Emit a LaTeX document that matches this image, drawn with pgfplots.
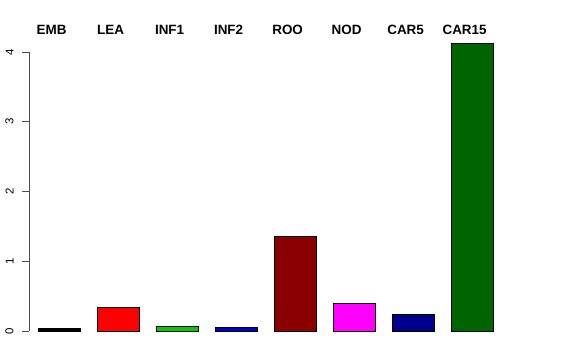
\documentclass[border=0pt]{standalone}
\usepackage{pgfplots}
\pgfplotsset{compat=1.18}
\usepackage{fontspec}
\setmainfont{Liberation Sans}
\definecolor{cEMB}{RGB}{0,0,0}
\definecolor{cLEA}{RGB}{255,0,0}
\definecolor{cINFa}{RGB}{0,205,0}
\definecolor{cINFb}{RGB}{0,0,205}
\definecolor{cROO}{RGB}{139,0,0}
\definecolor{cNOD}{RGB}{255,0,255}
\definecolor{cCARa}{RGB}{0,0,139}
\definecolor{cCARb}{RGB}{0,100,0}
\begin{document}
\begin{tikzpicture}
\begin{axis}[
  x=59bp, y=69.75bp,
  xmin=-0.508, xmax=8.15,
  ymin=0, ymax=4,
  clip=false,
  axis x line=none,
  axis y line=left,
  y axis line style={-, line width=0.75bp, black!70},
  ytick={0,1,2,3,4},
  tick align=outside,
  major tick length=7bp,
  ytick style={line width=0.75bp, black!70},
  yticklabel style={rotate=90, anchor=south, font=\fontsize{11.5}{13}\selectfont, yshift=5bp},
  /pgf/number format/assume math mode=true,
  ybar, bar width=42bp, bar shift=0pt,
  every axis plot/.append style={draw=black, line width=0.6bp},
]
\addplot[fill=cEMB] coordinates {(0,0.04)};
\addplot[fill=cLEA] coordinates {(1,0.34)};
\addplot[fill=cINFa] coordinates {(2,0.07)};
\addplot[fill=cINFb] coordinates {(3,0.05)};
\addplot[fill=cROO] coordinates {(4,1.36)};
\addplot[fill=cNOD] coordinates {(5,0.39)};
\addplot[fill=cCARa] coordinates {(6,0.24)};
\addplot[fill=cCARb] coordinates {(7,4.13)};
\foreach \i/\l in {0/EMB,1/LEA,2/INF1,3/INF2,4/ROO,5/NOD,6/CAR5,7/CAR15}{
  \edef\tmp{\noexpand\node[font=\noexpand\fontsize{13.5}{15}\noexpand\selectfont\noexpand\bfseries] at (axis cs:\i-0.125,4.315) {\l};}
  \tmp
}
\path (axis cs:-1,-0.4158) rectangle (axis cs:8.763,4.7455);
\end{axis}
\end{tikzpicture}
\end{document}
